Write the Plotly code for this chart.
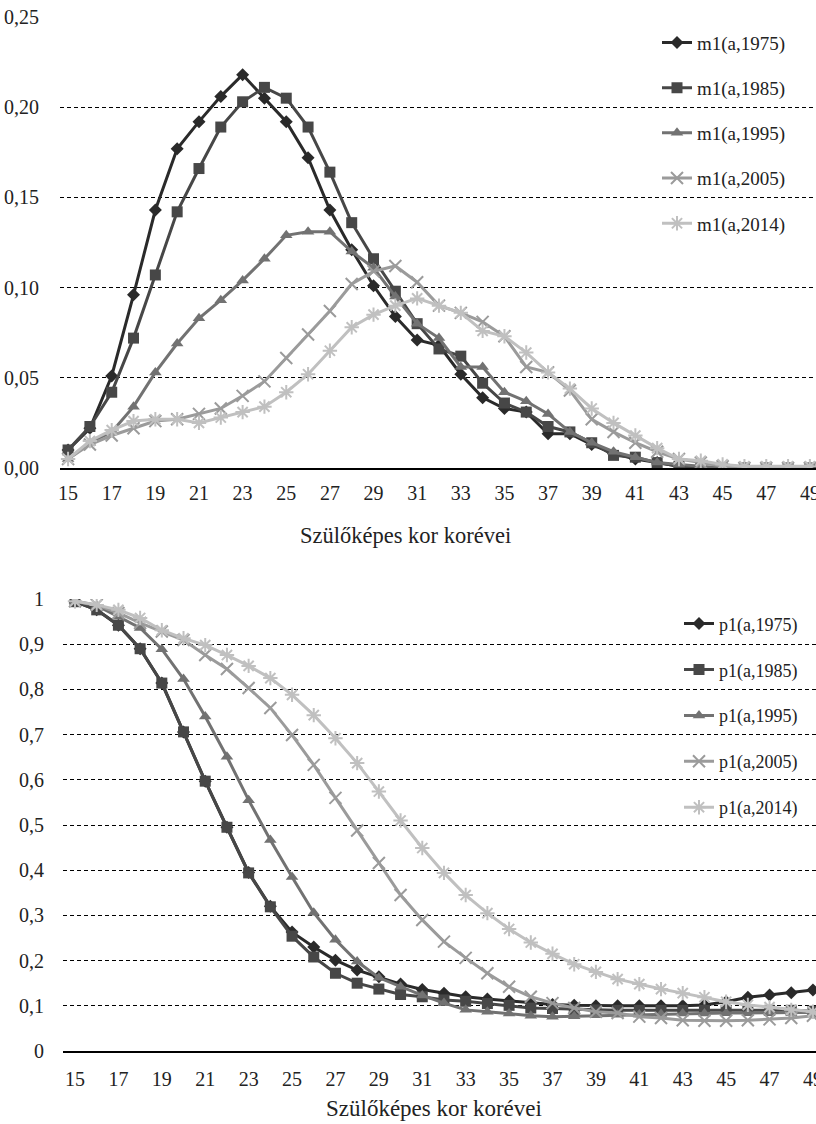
import plotly.graph_objects as go

ages = list(range(15, 50))
tick_ages = list(range(15, 50, 2))

m1_1975 = [0.010, 0.022, 0.051, 0.096, 0.143, 0.177, 0.192, 0.206, 0.218, 0.205, 0.192, 0.172, 0.143, 0.121, 0.101,
           0.084, 0.071, 0.068, 0.052, 0.039, 0.033, 0.031, 0.019, 0.019, 0.013, 0.008, 0.005, 0.003, 0.001, 0.000,
           0.000, 0.000, 0.000, 0.000, 0.000]
m1_1985 = [0.010, 0.023, 0.042, 0.072, 0.107, 0.142, 0.166, 0.189, 0.203, 0.211, 0.205, 0.189, 0.164, 0.136, 0.116,
           0.098, 0.080, 0.066, 0.062, 0.047, 0.036, 0.031, 0.023, 0.020, 0.014, 0.007, 0.006, 0.003, 0.001, 0.000,
           0.000, 0.000, 0.000, 0.000, 0.000]
m1_1995 = [0.005, 0.014, 0.020, 0.034, 0.053, 0.069, 0.083, 0.093, 0.104, 0.116, 0.129, 0.131, 0.131, 0.120, 0.111,
           0.095, 0.080, 0.072, 0.056, 0.056, 0.042, 0.037, 0.030, 0.020, 0.014, 0.009, 0.006, 0.003, 0.002, 0.001,
           0.000, 0.000, 0.000, 0.000, 0.000]
m1_2005 = [0.005, 0.013, 0.018, 0.022, 0.026, 0.027, 0.030, 0.033, 0.040, 0.048, 0.061, 0.074, 0.087, 0.102, 0.109,
           0.112, 0.103, 0.090, 0.086, 0.081, 0.073, 0.056, 0.053, 0.043, 0.027, 0.020, 0.014, 0.009, 0.005, 0.003,
           0.001, 0.000, 0.000, 0.000, 0.000]
m1_2014 = [0.005, 0.015, 0.021, 0.026, 0.027, 0.027, 0.025, 0.028, 0.031, 0.034, 0.042, 0.052, 0.065, 0.078, 0.085,
           0.090, 0.094, 0.090, 0.086, 0.076, 0.073, 0.064, 0.053, 0.044, 0.033, 0.025, 0.018, 0.011, 0.005, 0.004,
           0.002, 0.001, 0.001, 0.001, 0.001]

p1_1975 = [0.994, 0.976, 0.942, 0.890, 0.814, 0.706, 0.597, 0.495, 0.395, 0.320, 0.263, 0.230, 0.201, 0.179, 0.164,
           0.148, 0.136, 0.128, 0.120, 0.115, 0.111, 0.107, 0.103, 0.101, 0.100, 0.100, 0.100, 0.100, 0.100, 0.102,
           0.109, 0.119, 0.124, 0.129, 0.135]
p1_1985 = [0.994, 0.976, 0.942, 0.890, 0.814, 0.706, 0.597, 0.495, 0.394, 0.319, 0.254, 0.208, 0.172, 0.150, 0.137,
           0.125, 0.120, 0.113, 0.110, 0.105, 0.101, 0.095, 0.094, 0.092, 0.091, 0.090, 0.090, 0.090, 0.090, 0.090,
           0.090, 0.090, 0.090, 0.090, 0.088]
p1_1995 = [0.995, 0.985, 0.961, 0.936, 0.889, 0.823, 0.740, 0.651, 0.555, 0.467, 0.385, 0.306, 0.246, 0.198, 0.162,
           0.142, 0.123, 0.106, 0.091, 0.087, 0.083, 0.078, 0.076, 0.077, 0.079, 0.080, 0.081, 0.082, 0.083, 0.083,
           0.084, 0.084, 0.085, 0.085, 0.085]
p1_2005 = [0.995, 0.987, 0.969, 0.947, 0.928, 0.909, 0.876, 0.845, 0.803, 0.759, 0.699, 0.633, 0.560, 0.488, 0.416,
           0.345, 0.290, 0.242, 0.206, 0.172, 0.142, 0.120, 0.106, 0.095, 0.087, 0.084, 0.076, 0.073, 0.068, 0.067,
           0.067, 0.068, 0.070, 0.073, 0.078]
p1_2014 = [0.995, 0.987, 0.976, 0.958, 0.931, 0.913, 0.898, 0.876, 0.852, 0.825, 0.788, 0.743, 0.692, 0.637, 0.574,
           0.510, 0.449, 0.394, 0.345, 0.305, 0.270, 0.240, 0.215, 0.192, 0.175, 0.159, 0.148, 0.137, 0.128, 0.119,
           0.109, 0.102, 0.097, 0.091, 0.087]

top_names = ["m1(a,1975)", "m1(a,1985)", "m1(a,1995)", "m1(a,2005)", "m1(a,2014)"]
bot_names = ["p1(a,1975)", "p1(a,1985)", "p1(a,1995)", "p1(a,2005)", "p1(a,2014)"]
top_series = [m1_1975, m1_1985, m1_1995, m1_2005, m1_2014]
bot_series = [p1_1975, p1_1985, p1_1995, p1_2005, p1_2014]

colors = ["#2a2a2a", "#474747", "#727272", "#9b9b9b", "#c0c0c0"]
symbols = ["diamond", "square", "triangle-up", "x-thin-open", "asterisk-open"]
msizes = [10, 11, 11, 12, 12]

FONT = "Liberation Serif"
W, H = 816, 1124

fig = go.Figure()

for i in range(5):
    for (series, names, xa, ya, leg) in [(top_series, top_names, "x", "y", "legend"),
                                         (bot_series, bot_names, "x2", "y2", "legend2")]:
        fig.add_trace(go.Scatter(
            x=ages, y=series[i], name=names[i], mode="lines+markers",
            xaxis=xa, yaxis=ya, legend=leg, legendgroup=names[i],
            line=dict(color=colors[i], width=3),
            marker=dict(symbol=symbols[i], size=msizes[i], color=colors[i],
                        line=dict(color=colors[i], width=2 if i >= 3 else 0)),
        ))

tickfont = dict(family=FONT, size=20, color="#222222")
grid = dict(showgrid=True, gridcolor="#000000", gridwidth=1, griddash="4px,3px", zeroline=False,
            showline=False, ticks="outside", tickcolor="rgba(0,0,0,0)", automargin=False,
            tickfont=tickfont)
xcommon = dict(showgrid=False, zeroline=False, showline=True, linecolor="#000000", linewidth=1.5,
               tickvals=tick_ages, ticks="outside", tickcolor="rgba(0,0,0,0)", automargin=False,
               ticklabeloverflow="allow", tickfont=tickfont)

fig.update_layout(
    width=W, height=H, margin=dict(l=0, r=0, t=0, b=0, autoexpand=False),
    paper_bgcolor="white", plot_bgcolor="white",
    separators=", ",
    showlegend=True,
    xaxis=dict(**xcommon, domain=[60 / W, 1], range=[14.63, 49.28], anchor="y", ticklen=6),
    yaxis=dict(**grid, domain=[1 - 468 / H, 1 - 17 / H], range=[0, 0.25], tickvals=[0, 0.05, 0.10, 0.15, 0.20, 0.25],
               tickformat=".2f", ticklen=16, anchor="x"),
    xaxis2=dict(**xcommon, domain=[63 / W, 1], range=[14.447, 49.14], anchor="y2", ticklen=9),
    yaxis2=dict(**grid, domain=[1 - 1051 / H, 1 - 599 / H], range=[0, 1], tickvals=[0, 0.1, 0.2, 0.3, 0.4, 0.5, 0.6, 0.7, 0.8, 0.9, 1],
                ticklen=14, anchor="x2"),
    legend=dict(x=657 / W, y=1 - 23.6 / H, xanchor="left", yanchor="top", bgcolor="rgba(0,0,0,0)",
                font=dict(family=FONT, size=19, color="#222222"), traceorder="grouped", tracegroupgap=17.5),
    legend2=dict(x=679 / W, y=1 - 605.4 / H, xanchor="left", yanchor="top", bgcolor="rgba(0,0,0,0)",
                 font=dict(family=FONT, size=18, color="#222222"), traceorder="grouped", tracegroupgap=19.5),
    annotations=[
        dict(text="Szülőképes kor korévei", x=405 / W, y=1 - 535 / H, xref="paper", yref="paper",
             xanchor="center", yanchor="middle",
             showarrow=False, font=dict(family=FONT, size=22.5, color="#222222")),
        dict(text="Szülőképes kor korévei", x=434 / W, y=1 - 1108 / H, xref="paper", yref="paper",
             xanchor="center", yanchor="middle",
             showarrow=False, font=dict(family=FONT, size=23, color="#222222")),
    ],
)

fig.write_html("out.html")
